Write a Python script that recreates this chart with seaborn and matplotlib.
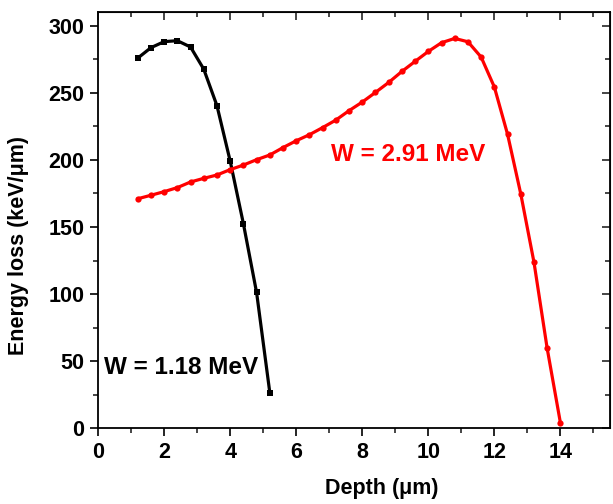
import numpy as np
import pandas as pd
import matplotlib
matplotlib.use("Agg")
import matplotlib.pyplot as plt
from matplotlib.ticker import MultipleLocator
import seaborn as sns

# depth (um) and energy loss (keV/um)
depth_low = [1.2, 1.6, 2.0, 2.4, 2.8, 3.2, 3.6, 4.0, 4.4, 4.8, 5.2]
loss_low = [275.7, 283.5, 288.0, 288.7, 284.0, 267.5, 240.3, 199.1, 152.5, 101.2, 26.7]

depth_high = [1.2, 1.6, 2.0, 2.4, 2.8, 3.2, 3.6, 4.0, 4.4, 4.8, 5.2,
              5.6, 6.0, 6.4, 6.8, 7.2, 7.6, 8.0, 8.4, 8.8, 9.2, 9.6,
              10.0, 10.4, 10.8, 11.2, 11.6, 12.0, 12.4, 12.8, 13.2, 13.6, 14.0]
loss_high = [171.0, 173.6, 176.3, 179.3, 183.5, 186.2, 188.7, 192.7, 196.1, 200.1, 203.6,
             209.1, 214.2, 218.7, 224.0, 229.6, 236.6, 243.0, 250.2, 257.6, 265.8, 273.3,
             280.7, 287.2, 290.4, 287.9, 276.5, 254.2, 219.0, 174.6, 123.7, 59.5, 4.2]

label_low = "W = 1.18 MeV"
label_high = "W = 2.91 MeV"

sns.set_style("ticks")
plt.rcParams['font.family'] = ['Liberation Sans', 'DejaVu Sans']
plt.rcParams['font.weight'] = 'bold'
plt.rcParams['axes.labelweight'] = 'bold'
plt.rcParams['text.color'] = 'black'
plt.rcParams['axes.labelcolor'] = 'black'

fig = plt.figure(figsize=(6.13, 5.04), dpi=100)
ax = fig.add_axes([0.160, 0.150, 0.835, 0.826])

df_low = pd.DataFrame({'depth': depth_low, 'loss': loss_low})
df_high = pd.DataFrame({'depth': depth_high, 'loss': loss_high})

sns.lineplot(data=df_low, x='depth', y='loss', ax=ax, color='black', linewidth=2.3,
             marker='s', markersize=4, markeredgewidth=0)
sns.lineplot(data=df_high, x='depth', y='loss', ax=ax, color='#ff0000', linewidth=2.3,
             marker='o', markersize=4.5, markeredgewidth=0)

ax.text(0.18, 45, label_low, color='black', fontsize=17.5, fontweight='bold', va='center')
ax.text(7.05, 204, label_high, color='#ff0000', fontsize=17.5, fontweight='bold', va='center')

ax.set_xlim(0, 15.5)
ax.set_ylim(0, 310)
ax.xaxis.set_major_locator(MultipleLocator(2))
ax.xaxis.set_minor_locator(MultipleLocator(1))
ax.yaxis.set_major_locator(MultipleLocator(50))
ax.yaxis.set_minor_locator(MultipleLocator(25))
ax.tick_params(which='major', direction='out', length=6, width=1.2, labelsize=15.5,
               colors='black', pad=4)
ax.tick_params(which='minor', direction='out', length=3.5, width=1.2)
for s in ax.spines.values():
    s.set_linewidth(1.3)
    s.set_color('black')

# mirrored ticks pointing inward on top and right
top = ax.secondary_xaxis('top')
top.xaxis.set_major_locator(MultipleLocator(2))
top.xaxis.set_minor_locator(MultipleLocator(1))
top.tick_params(which='major', direction='in', length=6, width=1.2, labeltop=False)
top.tick_params(which='minor', direction='in', length=3.5, width=1.2)
right = ax.secondary_yaxis('right')
right.yaxis.set_major_locator(MultipleLocator(50))
right.yaxis.set_minor_locator(MultipleLocator(25))
right.tick_params(which='major', direction='in', length=6, width=1.2, labelright=False)
right.tick_params(which='minor', direction='in', length=3.5, width=1.2)

ax.set_xlabel('Depth (\u03bcm)', fontsize=15.5, fontweight='bold')
ax.set_ylabel('Energy loss (keV/\u03bcm)', fontsize=15.5, fontweight='bold')
ax.xaxis.set_label_coords(0.555, -0.118)
ax.yaxis.set_label_coords(-0.135, 0.44)

fig.savefig('out.png', dpi=100)
